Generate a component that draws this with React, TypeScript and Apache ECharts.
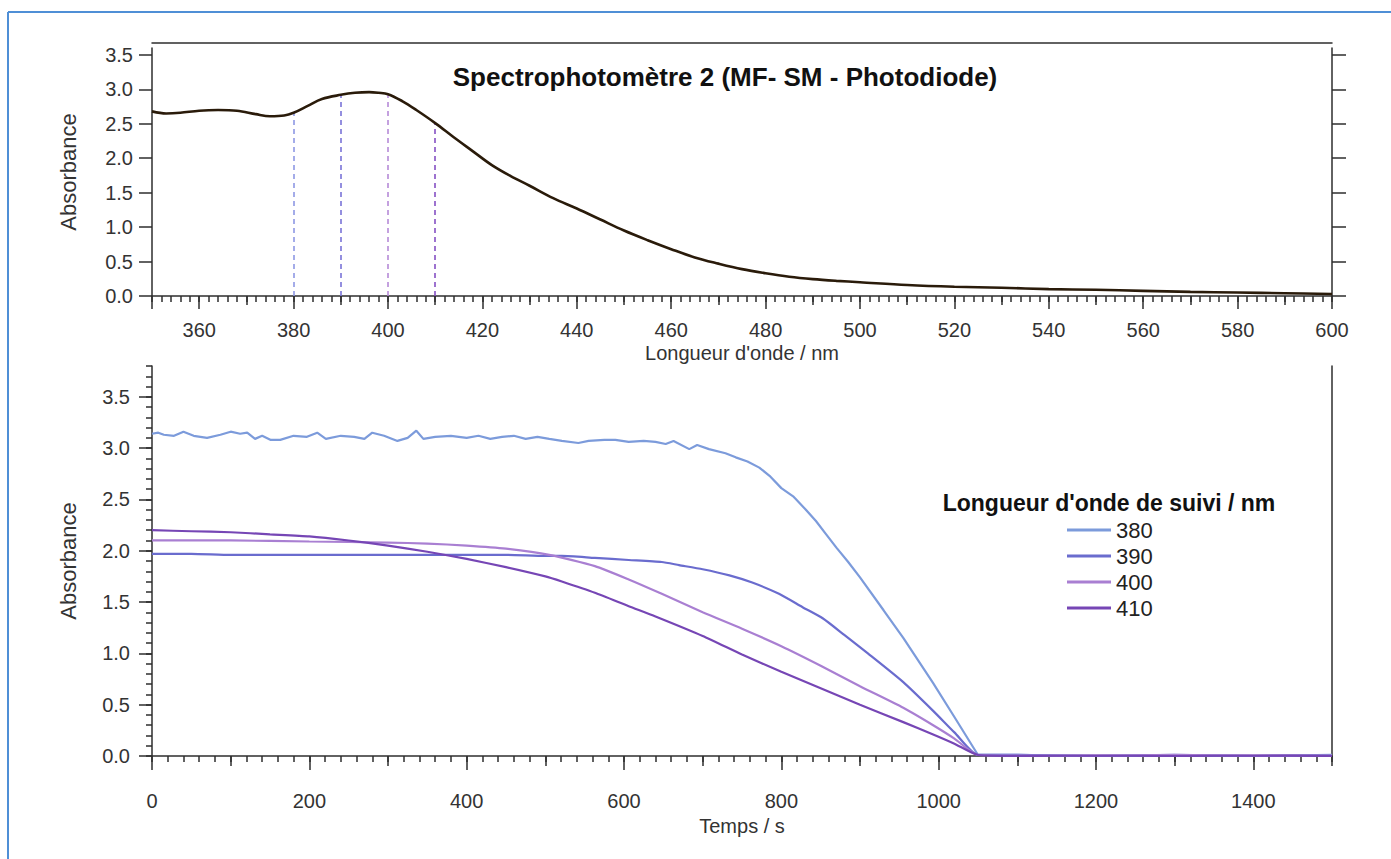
import React, { useEffect, useRef } from "react";
import * as echarts from "echarts";

// ---------- Top panel: absorption spectrum ----------
const wavelengths = [350, 353, 356, 360, 364, 368, 372, 375, 378, 380, 383, 386, 390, 393, 396, 398, 400, 403, 406, 410, 414, 418, 422, 426, 430, 435, 440, 445, 450, 455, 460, 465, 470, 475, 480, 485, 490, 495, 500, 510, 520, 530, 540, 550, 560, 570, 580, 590, 600];
const spectrumAbs = [2.68, 2.65, 2.66, 2.69, 2.70, 2.69, 2.64, 2.61, 2.62, 2.66, 2.76, 2.86, 2.92, 2.95, 2.96, 2.95, 2.93, 2.83, 2.70, 2.51, 2.30, 2.10, 1.90, 1.74, 1.60, 1.42, 1.27, 1.11, 0.95, 0.81, 0.68, 0.56, 0.47, 0.39, 0.33, 0.28, 0.245, 0.22, 0.20, 0.16, 0.135, 0.12, 0.10, 0.09, 0.075, 0.06, 0.05, 0.04, 0.03];
const markerWl = [380, 390, 400, 410];
const markerColors = ["#8e98e4", "#7a74d8", "#b68ad8", "#8550c4"];

const topYTicks = [0, 0.5, 1, 1.5, 2, 2.5, 3, 3.5];
const topXLabels = [360, 380, 400, 420, 440, 460, 480, 500, 520, 540, 560, 580, 600];
const topXMajorTicks = [350, 360, 380, 400, 420, 440, 460, 480, 500, 520, 540, 560, 580, 600];
const topXMediumTicks = [370, 390, 410, 430, 450, 470, 490, 510, 530, 550, 570, 590];

// ---------- Bottom panel: kinetics ----------
const seriesNames = ["380", "390", "400", "410"];
const seriesColors = ["#7c9bdb", "#6a6cce", "#a97fd2", "#7646b5"];

const t380 = [0, 8, 15, 28, 40, 53, 70, 87, 100, 112, 121, 131, 140, 151, 163, 180, 197, 210, 221, 240, 257, 270, 280, 295, 312, 325, 336, 345, 360, 380, 400, 415, 430, 445, 460, 475, 490, 505, 521, 542, 555, 575, 589, 606, 625, 640, 653, 663, 683, 693, 708, 729, 742, 757, 772, 785, 800, 815, 830, 844, 857, 870, 885, 900, 930, 955, 993, 1020, 1050, 1100, 1200, 1300, 1400, 1500];
const a380 = [3.14, 3.15, 3.13, 3.12, 3.16, 3.12, 3.10, 3.13, 3.16, 3.14, 3.15, 3.09, 3.12, 3.08, 3.08, 3.12, 3.11, 3.15, 3.09, 3.12, 3.11, 3.09, 3.15, 3.12, 3.07, 3.10, 3.17, 3.09, 3.11, 3.12, 3.10, 3.12, 3.09, 3.11, 3.12, 3.09, 3.11, 3.09, 3.07, 3.05, 3.07, 3.08, 3.08, 3.06, 3.07, 3.06, 3.04, 3.07, 2.99, 3.03, 2.99, 2.95, 2.91, 2.87, 2.81, 2.73, 2.61, 2.53, 2.41, 2.29, 2.16, 2.03, 1.89, 1.74, 1.42, 1.15, 0.71, 0.38, 0.01, 0.01, 0.0, 0.01, 0.0, 0.01];

const t390 = [0, 50, 100, 150, 200, 250, 300, 350, 400, 450, 500, 521, 563, 606, 648, 670, 700, 734, 763, 797, 827, 853, 880, 910, 955, 993, 1020, 1050, 1100, 1200, 1300, 1400, 1500];
const a390 = [1.97, 1.97, 1.96, 1.96, 1.96, 1.96, 1.96, 1.96, 1.96, 1.96, 1.95, 1.95, 1.93, 1.91, 1.89, 1.86, 1.82, 1.76, 1.69, 1.58, 1.45, 1.34, 1.18, 1.00, 0.72, 0.44, 0.23, 0.01, 0.01, 0.0, 0.005, 0.0, 0.005];

const t400 = [0, 100, 200, 300, 350, 400, 450, 505, 563, 606, 648, 700, 750, 800, 850, 900, 955, 993, 1020, 1050, 1100, 1200, 1300, 1400, 1500];
const a400 = [2.10, 2.10, 2.09, 2.08, 2.07, 2.05, 2.02, 1.96, 1.85, 1.72, 1.58, 1.40, 1.24, 1.07, 0.88, 0.68, 0.47, 0.30, 0.17, 0.01, 0.005, 0.005, 0.01, 0.005, 0.005];

const t410 = [0, 50, 100, 150, 200, 250, 300, 350, 400, 450, 500, 521, 563, 606, 640, 700, 750, 800, 850, 900, 955, 993, 1020, 1050, 1100, 1200, 1300, 1400, 1500];
const a410 = [2.20, 2.19, 2.18, 2.16, 2.14, 2.10, 2.05, 1.99, 1.92, 1.84, 1.75, 1.70, 1.59, 1.46, 1.36, 1.17, 0.99, 0.82, 0.66, 0.50, 0.33, 0.21, 0.12, 0.01, 0.0, 0.005, 0.0, 0.005, 0.0];

const botYTicks = [0, 0.5, 1, 1.5, 2, 2.5, 3, 3.5];
const botXLabels = [0, 200, 400, 600, 800, 1000, 1200, 1400];
const botXMediumTicks = [100, 300, 500, 700, 900, 1100, 1300, 1500];

const FONT = "'Liberation Sans', Arial, Helvetica, sans-serif";
const AX = "#2e2e2e";
const LBL = "#333333";

const pairs = (xs: number[], ys: number[]) => xs.map((x, i) => [x, ys[i]]);

export default function App() {
  const ref = useRef<HTMLDivElement>(null);

  useEffect(() => {
    if (!ref.current) return;
    const chart = echarts.init(ref.current, undefined, { renderer: "svg" });

    const lineAx = { show: true, onZero: false, lineStyle: { color: AX, width: 1.5 } };
    const noLine = { show: false, onZero: false };
    const tickStyle = { color: AX, width: 1.5 };
    const labelStyle = { color: LBL, fontSize: 20, fontFamily: FONT };
    const plain = (v: number) => String(v);

    const kin = [pairs(t380, a380), pairs(t390, a390), pairs(t400, a400), pairs(t410, a410)];

    const option: any = {
      animation: false,
      textStyle: { fontFamily: FONT },
      grid: [
        { left: 152, right: 59, top: 48, bottom: 563 },
        { left: 152, right: 59, top: 366, bottom: 103 },
      ],
      xAxis: [
        { gridIndex: 0, type: "value", position: "bottom", min: 350, max: 600, interval: 2,
          axisLine: lineAx, axisTick: { show: true, length: 6, lineStyle: tickStyle },
          axisLabel: { show: false }, splitLine: { show: false } },
        { gridIndex: 0, type: "value", position: "bottom", min: 350, max: 600,
          axisLine: noLine, axisTick: { show: true, length: 9, customValues: topXMediumTicks, lineStyle: tickStyle },
          axisLabel: { show: false }, splitLine: { show: false } },
        { gridIndex: 0, type: "value", position: "bottom", min: 350, max: 600,
          axisLine: noLine, axisTick: { show: true, length: 13, customValues: topXMajorTicks, lineStyle: tickStyle },
          axisLabel: { show: true, customValues: topXLabels, margin: 24, formatter: plain, ...labelStyle },
          splitLine: { show: false },
          name: "Longueur d'onde / nm", nameLocation: "middle", nameGap: 47,
          nameTextStyle: { color: LBL, fontSize: 20, fontFamily: FONT } },
        { gridIndex: 0, type: "value", position: "top", offset: 5, min: 350, max: 600,
          axisLine: lineAx, axisTick: { show: false }, axisLabel: { show: false }, splitLine: { show: false } },
        { gridIndex: 1, type: "value", position: "bottom", min: 0, max: 1500, interval: 20,
          axisLine: lineAx, axisTick: { show: true, length: 6, lineStyle: tickStyle },
          axisLabel: { show: false }, splitLine: { show: false } },
        { gridIndex: 1, type: "value", position: "bottom", min: 0, max: 1500,
          axisLine: noLine, axisTick: { show: true, length: 10, customValues: botXMediumTicks, lineStyle: tickStyle },
          axisLabel: { show: false }, splitLine: { show: false } },
        { gridIndex: 1, type: "value", position: "bottom", min: 0, max: 1500,
          axisLine: noLine, axisTick: { show: true, length: 14, customValues: botXLabels, lineStyle: tickStyle },
          axisLabel: { show: true, customValues: botXLabels, margin: 35, formatter: plain, ...labelStyle },
          splitLine: { show: false },
          name: "Temps / s", nameLocation: "middle", nameGap: 60,
          nameTextStyle: { color: LBL, fontSize: 20, fontFamily: FONT } },
      ],
      yAxis: [
        { gridIndex: 0, type: "value", position: "left", min: 0, max: 3.6,
          axisLine: lineAx, axisTick: { show: true, length: 13, customValues: topYTicks, lineStyle: tickStyle },
          axisLabel: { show: true, customValues: topYTicks, margin: 19, formatter: (v: number) => v.toFixed(1), ...labelStyle },
          splitLine: { show: false },
          name: "Absorbance", nameLocation: "middle", nameGap: 73,
          nameTextStyle: { color: LBL, fontSize: 22, fontFamily: FONT } },
        { gridIndex: 0, type: "value", position: "right", min: 0, max: 3.6,
          axisLine: lineAx, axisTick: { show: true, length: 14, customValues: topYTicks, lineStyle: tickStyle },
          axisLabel: { show: false }, splitLine: { show: false } },
        { gridIndex: 1, type: "value", position: "left", min: 0, max: 3.8, interval: 0.1,
          axisLine: lineAx, axisTick: { show: true, length: 6, lineStyle: tickStyle },
          axisLabel: { show: false }, splitLine: { show: false } },
        { gridIndex: 1, type: "value", position: "left", min: 0, max: 3.8,
          axisLine: noLine, axisTick: { show: true, length: 13, customValues: botYTicks, lineStyle: tickStyle },
          axisLabel: { show: true, customValues: botYTicks, margin: 22, formatter: (v: number) => v.toFixed(1), ...labelStyle },
          splitLine: { show: false },
          name: "Absorbance", nameLocation: "middle", nameGap: 73,
          nameTextStyle: { color: LBL, fontSize: 22, fontFamily: FONT } },
        { gridIndex: 1, type: "value", position: "right", min: 0, max: 3.8,
          axisLine: lineAx, axisTick: { show: false }, axisLabel: { show: false }, splitLine: { show: false } },
      ],
      legend: {
        data: seriesNames,
        orient: "vertical",
        left: 1067,
        top: 519,
        icon: "rect",
        itemWidth: 44,
        itemHeight: 3,
        itemGap: 4,
        padding: 0,
        textStyle: { color: "#222", fontSize: 22, fontFamily: FONT },
      },
      graphic: [
        { type: "line", shape: { x1: 8, y1: 12, x2: 1391, y2: 12 }, style: { stroke: "#4f8fd6", lineWidth: 2 } },
        { type: "line", shape: { x1: 8, y1: 12, x2: 8, y2: 859 }, style: { stroke: "#4f8fd6", lineWidth: 2 } },
        { type: "text", x: 725, y: 77,
          style: { text: "Spectrophotomètre 2 (MF- SM - Photodiode)", font: `bold 26px ${FONT}`, fill: "#111",
            align: "center", verticalAlign: "middle" } },
        { type: "text", x: 1109, y: 503,
          style: { text: "Longueur d'onde de suivi / nm", font: `bold 23px ${FONT}`, fill: "#111",
            align: "center", verticalAlign: "middle" } },
      ],
      series: [
        {
          name: "Spectre", type: "line", xAxisIndex: 0, yAxisIndex: 0,
          data: pairs(wavelengths, spectrumAbs), smooth: 0.35, symbol: "none",
          lineStyle: { color: "#2a1b0a", width: 2.6 }, z: 5,
          markLine: {
            silent: true, symbol: ["none", "none"], label: { show: false },
            lineStyle: { type: [5, 4], width: 1.6 },
            data: markerWl.map((w, i) => [
              { coord: [w, 0], lineStyle: { color: markerColors[i], type: [5, 4], width: 1.6 } },
              { coord: [w, spectrumAbs[wavelengths.indexOf(w)]] },
            ]),
          },
        },
        ...seriesNames.map((n, i) => ({
          name: n, type: "line", xAxisIndex: 4, yAxisIndex: 2,
          data: kin[i], symbol: "none", showSymbol: false,
          smooth: i === 0 ? false : 0.2,
          lineStyle: { color: seriesColors[i], width: 2.2 },
          itemStyle: { color: seriesColors[i] },
        })),
      ],
    };

    chart.setOption(option);
    return () => chart.dispose();
  }, []);

  return (
    <div
      ref={ref}
      style={{ position: "fixed", left: 0, top: 0, width: 1391, height: 859, background: "#fff" }}
    />
  );
}
